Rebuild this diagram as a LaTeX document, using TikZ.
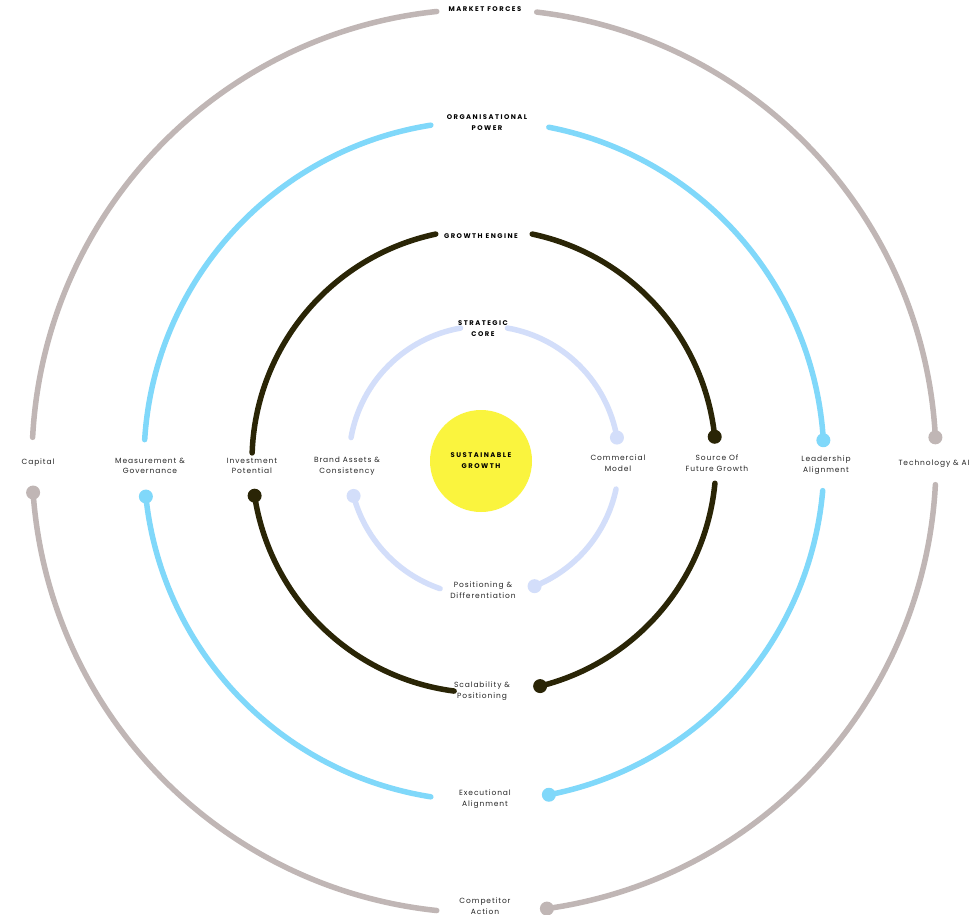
\documentclass[tikz,border=0pt]{standalone}
\usepackage{fontspec}
\setmainfont{Poppins}[LetterSpace=12]
\newfontfamily\headfont{Poppins}[LetterSpace=22]
\usetikzlibrary{calc}
\definecolor{ringA}{HTML}{D3DEFA}
\definecolor{ringB}{HTML}{2A2506}
\definecolor{ringC}{HTML}{80D8FA}
\definecolor{ringD}{HTML}{C0B6B5}
\definecolor{sun}{HTML}{FAF43E}
\tikzset{
  ringline/.style={line width=5.5pt,line cap=round},
  lbl/.style={font=\fontsize{7.5}{10.5}\selectfont,align=center,text=black!85},
  head/.style={font=\headfont\fontsize{6.8}{11}\selectfont\bfseries,align=center,text=black}
}
\newcommand{\myarc}[4]{\draw[ringline,#4] ($(c)+(#2:#1pt)$) arc[start angle=#2,end angle=#3,radius=#1pt];}
\newcommand{\mydot}[3]{\fill[#3] ($(c)+(#2:#1pt)$) coordinate (d#1x#2) circle (7pt);}
\begin{document}
\begin{tikzpicture}[x=1pt,y=1pt]
\clip (0,0) rectangle (980,-915);
\fill[white] (0,0) rectangle (980,-915);
\coordinate (c) at (484,-461);
% inner ring
\myarc{135}{100}{170}{ringA}
\myarc{135}{80}{10}{ringA}\mydot{135}{10}{ringA}
\myarc{135}{195}{251}{ringA}\mydot{135}{195}{ringA}
\myarc{135}{292}{348}{ringA}\mydot{135}{292}{ringA}
% growth ring
\myarc{232}{102}{178}{ringB}
\myarc{232}{78}{6}{ringB}\mydot{232}{6}{ringB}
\myarc{232}{188.6}{262.6}{ringB}\mydot{232}{188.6}{ringB}
\myarc{232}{284}{354.5}{ringB}\mydot{232}{284}{ringB}
% organisational ring
\myarc{340}{99}{176.4}{ringC}
\myarc{340}{79}{3.5}{ringC}\mydot{340}{3.5}{ringC}
\myarc{340}{186}{261}{ringC}\mydot{340}{186}{ringC}
\myarc{340}{281}{355}{ringC}\mydot{340}{281}{ringC}
% market ring
\myarc{452}{96}{177}{ringD}
\myarc{452}{83.3}{3}{ringD}\mydot{452}{3}{ringD}
\myarc{452}{184}{264}{ringD}\mydot{452}{184}{ringD}
\myarc{452}{278}{357}{ringD}\mydot{452}{278}{ringD}
% core
\node[circle,fill=sun,minimum size=102pt,head] (core) at (481,-461) {SUSTAINABLE\\GROWTH};
% headings
\node[head] (h1) at (485,-9) {MARKET FORCES};
\node[head] (h2) at (487,-123) {ORGANISATIONAL\\POWER};
\node[head] (h3) at (481,-236) {GROWTH ENGINE};
\node[head] (h4) at (483,-329) {STRATEGIC\\CORE};
% side labels
\node[lbl] (l1) at (38,-463) {Capital};
\node[lbl] (l2) at (150,-466) {Measurement \&\\Governance};
\node[lbl] (l3) at (252,-466) {Investment\\Potential};
\node[lbl] (l4) at (347,-466) {Brand Assets \&\\Consistency};
\node[lbl] (l5) at (618,-463) {Commercial\\Model};
\node[lbl] (l6) at (717,-463) {Source Of\\Future Growth};
\node[lbl] (l7) at (826,-465) {Leadership\\Alignment};
\node[lbl,anchor=west] (l8) at (895,-464) {Technology \& AI};
\node[lbl] (b1) at (483,-590) {Positioning \&\\Differentiation};
\node[lbl] (b2) at (482,-691) {Scalability \&\\Positioning};
\node[lbl] (b3) at (485,-799) {Executional\\Alignment};
\node[lbl] (b4) at (485,-906) {Competitor\\Action};
\end{tikzpicture}
\end{document}
